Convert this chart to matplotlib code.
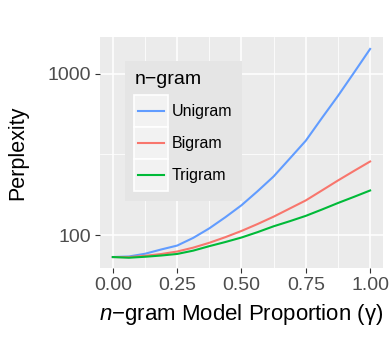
import matplotlib
matplotlib.use('Agg')
import matplotlib.pyplot as plt
from matplotlib.patches import Rectangle
from matplotlib.lines import Line2D
from matplotlib.legend_handler import HandlerBase
from matplotlib.ticker import FixedLocator, NullFormatter

plt.rcParams['font.family'] = ['Liberation Sans', 'DejaVu Sans']
plt.rcParams['mathtext.fontset'] = 'custom'
plt.rcParams['mathtext.it'] = 'Liberation Sans:italic'
plt.rcParams['mathtext.rm'] = 'Liberation Sans'

# values (perplexity, log scale)
gamma = [0.0, 0.0625, 0.125, 0.1875, 0.25, 0.3125, 0.375, 0.4375, 0.5,
         0.5625, 0.625, 0.6875, 0.75, 0.8125, 0.875, 0.9375, 1.0]
unigram = [73, 73.6, 76.5, 81.3, 86, 96, 110, 129, 153,
           187, 231, 298, 385, 532, 730, 1019, 1428]
bigram = [73, 72.9, 74.3, 76.2, 79, 83.5, 89.5, 97, 106,
          117, 130, 146, 164, 189, 218, 250, 286]
trigram = [73, 72.3, 73.3, 74.6, 76.3, 80, 85.3, 90.5, 96.5,
           104.2, 113.3, 121.8, 131.5, 143.9, 158, 172.6, 189]

series_names = ['Unigram', 'Bigram', 'Trigram']
series_colors = ['#619CFF', '#F8766D', '#00BA38']

x_ticks = [0.0, 0.25, 0.5, 0.75, 1.0]
x_labels = ['0.00', '0.25', '0.50', '0.75', '1.00']
y_ticks = [100, 1000]
y_labels = ['100', '1000']


class KeyHandler(HandlerBase):
    # ggplot-like legend key: grey box with a short line inside
    def create_artists(self, legend, orig_handle, xdescent, ydescent,
                       width, height, fontsize, trans):
        bg = Rectangle((-xdescent, -ydescent), width, height,
                       facecolor='#F2F2F2', edgecolor='white', lw=1.2,
                       transform=trans)
        pad = 0.12 * width
        y = -ydescent + height / 2
        ln = Line2D([-xdescent + pad, -xdescent + width - pad], [y, y],
                    color=orig_handle.get_color(),
                    lw=orig_handle.get_linewidth(), transform=trans)
        return [bg, ln]


fig = plt.figure(figsize=(3.92, 3.41), dpi=100)
ax = fig.add_axes([0.255, 0.214, 0.722, 0.677])
ax.set_facecolor('#EBEBEB')

lines = []
for name, vals, col in zip(series_names, [unigram, bigram, trigram], series_colors):
    l, = ax.plot(gamma, vals, color=col, lw=1.5, label=name)
    lines.append(l)

ax.set_yscale('log')
ax.set_xlim(-0.05, 1.05)
ax.set_ylim(62.4, 1690)

ax.set_xticks(x_ticks)
ax.set_xticklabels(x_labels)
ax.set_xticks([0.125, 0.375, 0.625, 0.875], minor=True)
ax.set_yticks(y_ticks)
ax.set_yticklabels(y_labels)
ax.yaxis.set_minor_locator(FixedLocator([10 ** 2.5]))
ax.yaxis.set_minor_formatter(NullFormatter())

ax.tick_params(which='major', length=3.5, width=0.8, color='#333333',
               labelcolor='#4D4D4D', labelsize=14, pad=3)
ax.tick_params(which='minor', length=0)
ax.grid(which='major', color='white', lw=1.1)
ax.grid(which='minor', color='white', lw=0.55)
ax.set_axisbelow(True)
for s in ax.spines.values():
    s.set_visible(False)

ax.set_ylabel('Perplexity', fontsize=15.5, labelpad=14)
ax.set_xlabel(r'$n$−gram Model Proportion (γ)', fontsize=16, labelpad=5.5)

leg = ax.legend(handles=lines, title='n−gram', loc='upper left',
                bbox_to_anchor=(0.088, 0.896), borderaxespad=0,
                fontsize=11.5, title_fontsize=14, alignment='left',
                handler_map={Line2D: KeyHandler()},
                handlelength=2.1, handleheight=2.7, labelspacing=0,
                handletextpad=0.25, borderpad=0.6,
                fancybox=False, framealpha=1, facecolor='#E5E5E5',
                edgecolor='none')
# gap between legend title and keys
leg._legend_box.sep = 5.5

fig.savefig('out.png', dpi=100)
